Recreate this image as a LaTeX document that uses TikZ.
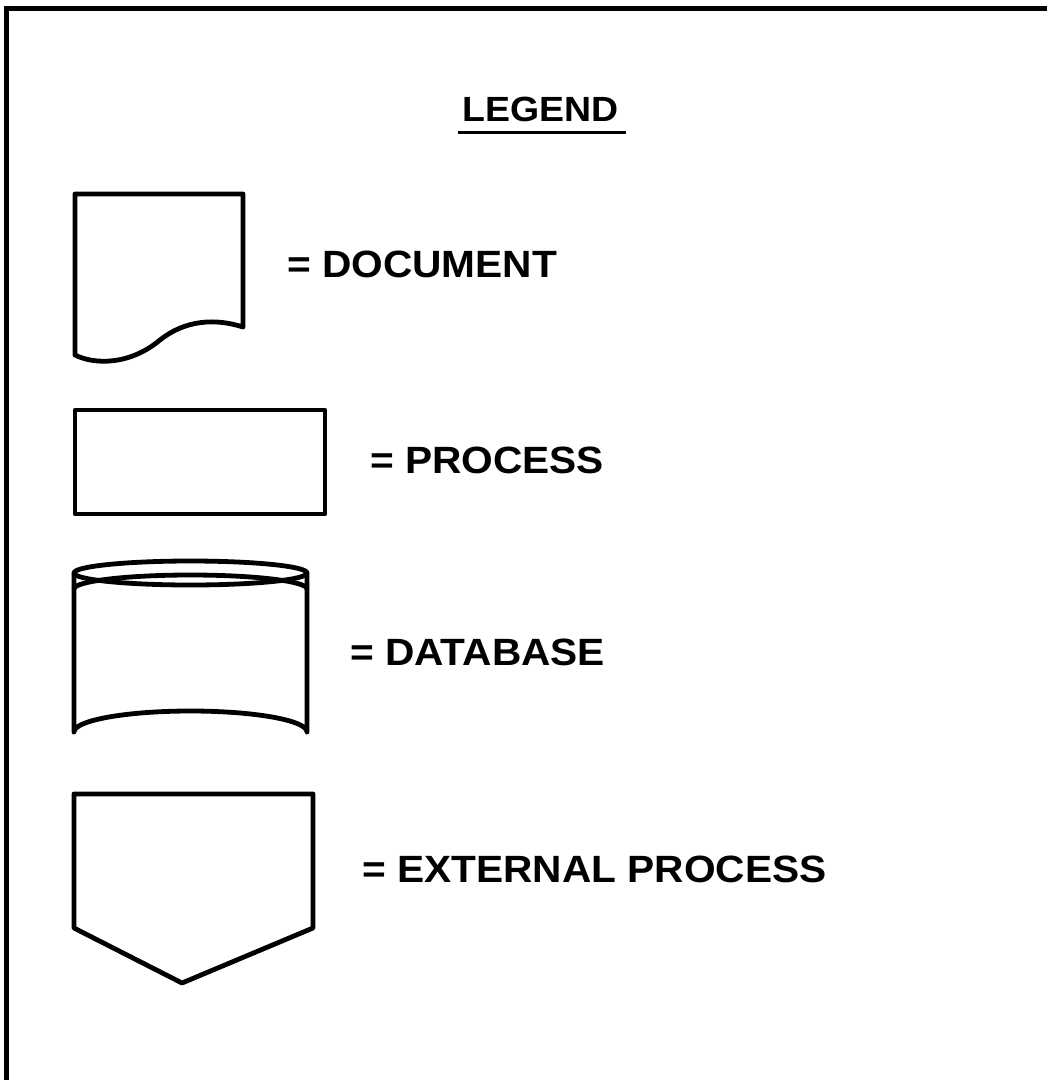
\documentclass[tikz,border=0pt]{standalone}
\usepackage{fontspec}
\setmainfont{Liberation Sans}[FakeStretch=1.07]
\begin{document}
\begin{tikzpicture}[x=1pt,y=-1pt,
  shapeline/.style={line width=4.8pt, line join=round, line cap=round},
  framel/.style={line width=5pt},
  lbl/.style={anchor=base west, inner sep=0pt, font=\fontsize{38}{44}\selectfont\bfseries},
  ttl/.style={anchor=base west, inner sep=0pt, font=\fontsize{35}{40}\selectfont\bfseries}]
\useasboundingbox (0,0) rectangle (1047,1080);
% frame (only top and left edges are visible)
\coordinate (ftl) at (6.5,8.5);
\coordinate (ftr) at (1047,8.5);
\coordinate (fbl) at (6.5,1080);
\draw[framel] (fbl) -- (ftl) -- (ftr);
% title
\node[ttl] (legend) at (462,121) {LEGEND};
\draw[line width=3pt] ([xshift=-4pt,yshift=-11pt]legend.base west) -- ([xshift=8pt,yshift=-11pt]legend.base east);
% document
\draw[shapeline] (75,355) -- (75,194) -- (243,194) -- (243,327)
  .. controls (215,318) and (185,320) .. (160,340)
  .. controls (130,365) and (95,365) .. (75,355);
\node[lbl] (doc) at (287,277) {= DOCUMENT};
% process
\draw[shapeline] (75,410) rectangle (325,514);
\node[lbl] (proc) at (370,473) {= PROCESS};
% database
\draw[shapeline] (190.5,573) ellipse[x radius=116.5, y radius=12];
\draw[shapeline] (307,589) arc[start angle=0, end angle=-180, x radius=116.5, y radius=14];
\draw[shapeline] (74,573) -- (74,732) arc[start angle=180, end angle=360, x radius=116.5, y radius=21] -- (307,573);
\node[lbl] (db) at (350,665) {= DATABASE};
% external process
\draw[shapeline] (74,928) -- (74,794) -- (313,794) -- (313,928) -- (182,983) -- cycle;
\node[lbl] (ext) at (362,882) {= EXTERNAL PROCESS};
\end{tikzpicture}
\end{document}
